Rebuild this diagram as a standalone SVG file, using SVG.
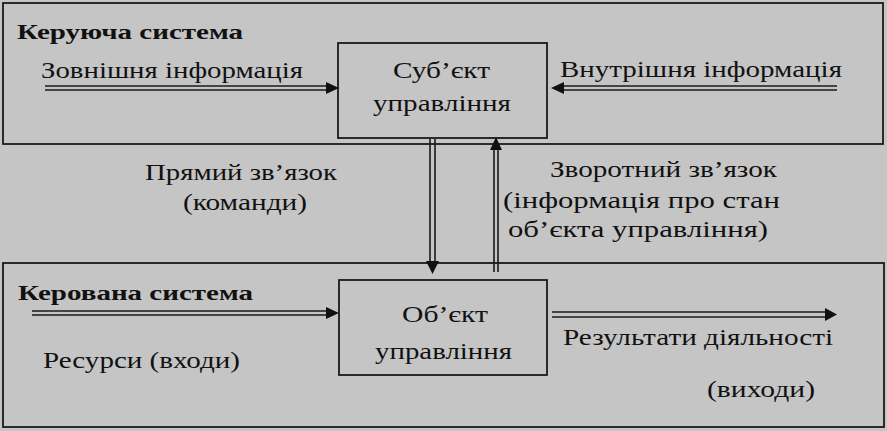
<svg xmlns="http://www.w3.org/2000/svg" width="887" height="431" viewBox="0 0 887 431">
<style>
.bg{fill:#c5c5c5}
.box{fill:#c5c5c5;stroke:#1a1a1a;stroke-width:1.8}
text{fill:#111}
.t{font-size:24px}
.b{font-size:22px;font-weight:bold}
.ln{stroke:#1a1a1a;stroke-width:1.6;fill:none}
.hd{fill:#111}
</style>
<rect class="bg" x="0" y="0" width="887" height="431"/>
<g font-family="Liberation Serif, Tinos, Times New Roman, DejaVu Serif, serif">
<g id="control-system">
<rect class="box" x="3" y="3" width="880" height="141"/>
<text class="b" x="17" y="39" textLength="226" lengthAdjust="spacingAndGlyphs">Керуюча система</text>
</g>
<g id="managed-system">
<rect class="box" x="3" y="263" width="881" height="164"/>
<text class="b" x="18" y="300" textLength="235" lengthAdjust="spacingAndGlyphs">Керована система</text>
</g>
<g id="subject">
<rect class="box" x="338" y="43" width="209" height="95"/>
<text class="t" x="393" y="78" textLength="97" lengthAdjust="spacingAndGlyphs">Суб’єкт</text>
<text class="t" x="373" y="111" textLength="138" lengthAdjust="spacingAndGlyphs">управління</text>
</g>
<g id="object">
<rect class="box" x="339" y="280" width="208" height="95"/>
<text class="t" x="402" y="322" textLength="86" lengthAdjust="spacingAndGlyphs">Об’єкт</text>
<text class="t" x="375" y="359" textLength="137" lengthAdjust="spacingAndGlyphs">управління</text>
</g>
<g id="labels">
<text class="t" x="41" y="78" textLength="262" lengthAdjust="spacingAndGlyphs">Зовнішня інформація</text>
<text class="t" x="560" y="77" textLength="282" lengthAdjust="spacingAndGlyphs">Внутрішня інформація</text>
<text class="t" x="145" y="180" textLength="192" lengthAdjust="spacingAndGlyphs">Прямий зв’язок</text>
<text class="t" x="183" y="210" textLength="124" lengthAdjust="spacingAndGlyphs">(команди)</text>
<text class="t" x="550" y="177" textLength="227" lengthAdjust="spacingAndGlyphs">Зворотний зв’язок</text>
<text class="t" x="503" y="208" textLength="277" lengthAdjust="spacingAndGlyphs">(інформація про стан</text>
<text class="t" x="508" y="237" textLength="260" lengthAdjust="spacingAndGlyphs">об’єкта управління)</text>
<text class="t" x="43" y="368" textLength="197" lengthAdjust="spacingAndGlyphs">Ресурси (входи)</text>
<text class="t" x="563" y="345" textLength="270" lengthAdjust="spacingAndGlyphs">Результати діяльності</text>
<text class="t" x="707" y="397" textLength="108" lengthAdjust="spacingAndGlyphs">(виходи)</text>
</g>
</g>
<g id="connectors">
<path class="ln" d="M45 86H330M45 90H330"/>
<polygon class="hd" points="326,82 339,88 326,94"/>
<path class="ln" d="M560 86H837M560 90H837"/>
<polygon class="hd" points="564,82 551,88 564,94"/>
<path class="ln" d="M430 139V264M435 139V264"/>
<polygon class="hd" points="426,261 439,261 432.5,274"/>
<path class="ln" d="M494 146V272M498 146V272"/>
<polygon class="hd" points="490,150 502,150 496,137"/>
<path class="ln" d="M32 311H330M32 315H330"/>
<polygon class="hd" points="326,307 339,313 326,319"/>
<path class="ln" d="M552 312H828M552 317H828"/>
<polygon class="hd" points="825,308 837,314.5 825,321"/>
</g>
</svg>
